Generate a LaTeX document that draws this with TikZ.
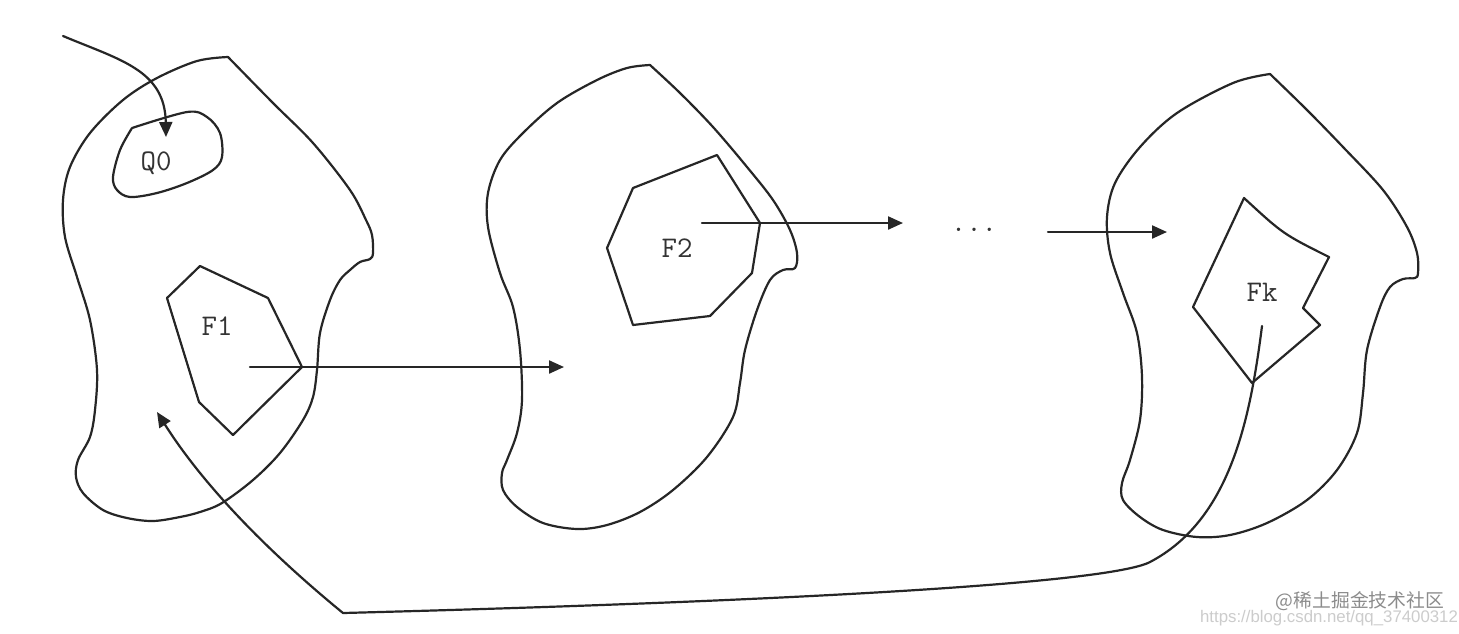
\documentclass[tikz,border=0pt]{standalone}
\usepackage{fontspec}
\newfontfamily\cjkfont{Noto Sans CJK SC}
\newfontfamily\urlfont{Liberation Sans}
\usetikzlibrary{arrows.meta}
\begin{document}
\begin{tikzpicture}[x=0.5pt,y=-0.5pt,
  line/.style={draw=black!85, line width=1.1pt, line join=round, line cap=round},
  conn/.style={line, -{Triangle[length=7.5pt,width=6.5pt]}},
  lbl/.style={font=\ttfamily\fontsize{15}{15}\selectfont, text=black!80, inner sep=0pt},
]
\useasboundingbox[fill=white] (0,0) rectangle (1459,633);

% ---------- blob 1 ----------
\draw[line] plot[smooth, tension=0.55] coordinates {
 (228,57) (197,61) (157,78) (123,100) (90,133) (70,167) (63,200) (65,237)
 (77,277) (90,320) (97,370) (95,410) (90,437) (78,460) (76,477) (83,493)
 (103,510) (127,518) (153,521) (180,517) (200,512) (222,503) (253,480)
 (280,453) (303,420) (313,397) (317,370) (320,333) (330,300) (340,280)
 (350,270) (360,262) (370,259) (373,253) (372,235) (366,220) (350,190)
 (313,143) (273,103) (228,57)};

% Q0 region
\draw[line] plot[smooth, tension=0.55] coordinates {
 (132,128) (187,112) (207,117) (220,133) (222,157) (213,170) (187,183)
 (157,193) (130,197) (117,190) (113,177) (120,150) (132,128)};
\node[lbl] (q0) at (156,163) {Q0};

% F1 polygon
\draw[line] (200,266) -- (167,298) -- (199,402) -- (233,435) -- (302,367) -- (268,298) -- cycle;
\node[lbl] (f1) at (217,326) {F1};

% ---------- blob 2 ----------
\draw[line] plot[smooth, tension=0.55] coordinates {
 (650,65) (627,68) (597,80) (557,103) (523,133) (500,160) (488,193) (488,227)
 (500,273) (513,307) (520,350) (522,400) (517,433) (507,460) (502,473)
 (503,490) (517,507) (543,523) (577,529) (607,525) (640,512) (673,490)
 (707,457) (733,417) (740,383) (745,350) (757,310) (770,280) (783,270)
 (795,268) (797,253) (790,230) (773,200) (747,167) (713,127) (680,93) (650,65)};

% F2 polygon
\draw[line] (633,188) -- (717,155) -- (760,223) -- (752,273) -- (710,316) -- (633,325) -- (607,248) -- cycle;
\node[lbl] (f2) at (677,248) {F2};

% ---------- blob k ----------
\draw[line] plot[smooth, tension=0.55] coordinates {
 (1270,74) (1233,83) (1177,113) (1140,147) (1115,183) (1107,217) (1110,253)
 (1123,293) (1137,333) (1142,377) (1140,420) (1130,460) (1122,483) (1123,500)
 (1140,517) (1163,530) (1197,537) (1230,535) (1267,523) (1307,500) (1337,470)
 (1357,433) (1363,393) (1367,350) (1380,307) (1390,287) (1403,279) (1415,278)
 (1418,273) (1417,253) (1407,227) (1383,190) (1343,147) (1307,110) (1270,74)};

% Fk polygon
\draw[line] (1244,198) .. controls (1283,234) .. (1329,257) -- (1303,308) -- (1320,325) -- (1252,383) -- (1193,307) -- cycle;
\node[lbl] (fk) at (1262,292) {Fk};

% dots
\node[lbl] (dots) at (974,230) {...};

% ---------- connector end points ----------
\coordinate (inS) at (63,36);
\coordinate (inE) at (166,137);
\coordinate (a1S) at (250,367);
\coordinate (a1E) at (564,367);
\coordinate (a2S) at (702,223);
\coordinate (a2E) at (903,223);
\coordinate (a3S) at (1048,232);
\coordinate (a3E) at (1167,232);
\coordinate (rS) at (1262,326);
\coordinate (rM) at (1150,562);
\coordinate (rC) at (343,613);
\coordinate (rE) at (157,412);

% ---------- connectors ----------
\draw[conn] (inS) .. controls (120,60) and (165,70) .. (inE);
\draw[conn] (a1S) -- (a1E);
\draw[conn] (a2S) -- (a2E);
\draw[conn] (a3S) -- (a3E);
\draw[conn] (rS) .. controls (1250,420) and (1230,520) .. (rM)
  .. controls (1110,583) and (800,601) .. (rC)
  .. controls (260,545) and (200,480) .. (rE);

% ---------- watermark ----------
\node[inner sep=0pt, text=black!20, font=\urlfont\fontsize{8.4}{9}\selectfont] (wurl) at (1329,618) {https://blog.csdn.net/qq\_37400312};
\node[inner sep=0pt, text=black!45, font=\cjkfont\fontsize{9.4}{10}\selectfont] (wcjk) at (1360,601) {@稀土掘金技术社区};
\end{tikzpicture}
\end{document}
